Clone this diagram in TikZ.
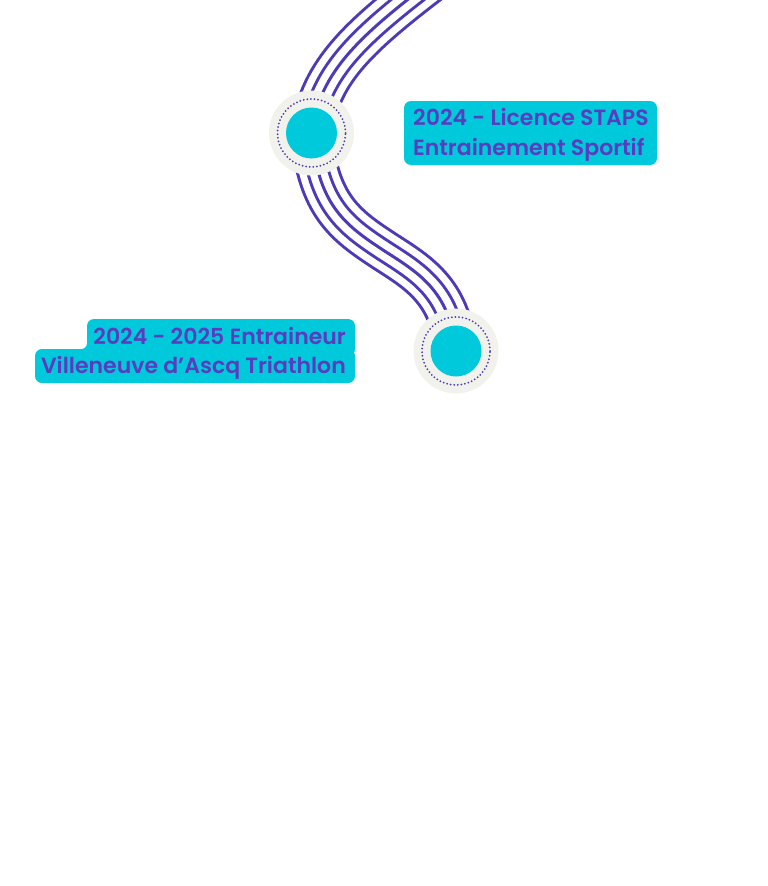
\documentclass[tikz,border=0pt]{standalone}
\usepackage{fontspec}
\setmainfont{Poppins}[BoldFont={Poppins SemiBold}]
\definecolor{linecol}{HTML}{4C3BB8}
\definecolor{txtcol}{HTML}{5A3CC0}
\definecolor{cyanfill}{HTML}{00C9DB}
\definecolor{halo}{HTML}{F2F2EC}
\tikzset{
  halonode/.style={circle, fill=halo, minimum size=85pt, inner sep=0pt},
  corenode/.style={circle, fill=cyanfill, minimum size=51pt, inner sep=0pt},
  dotring/.style={draw=linecol, line width=2pt, line cap=round, dash pattern=on 0pt off 3.6pt},
  labeltext/.style={inner sep=0pt, text=txtcol, font=\bfseries\fontsize{22}{30}\selectfont},
  labelbox/.style={fill=cyanfill, rounded corners=7pt}
}
\begin{document}
\begin{tikzpicture}[x=1pt,y=-1pt]
\useasboundingbox (0,0) rectangle (768,886);
\clip (0,0) rectangle (768,886);
\coordinate (top) at (446,-30);
\coordinate (p1) at (311.5,133);
\coordinate (p2) at (456,351);
% connectors: five parallel strands made of stacked strokes
\foreach \w/\c in {43.5/linecol,37.5/white,23.5/linecol,17.5/white,3/linecol}{
  \draw[line width=\w pt, draw=\c] (p1) .. controls (320,70) and (360,35) .. (top);
  \draw[line width=\w pt, draw=\c] (p1) .. controls (318,205) and (345,225) .. (383,250)
     .. controls (417,272) and (450,290) .. (p2);
}
% milestones
\node[halonode] (h1) at (p1) {};
\node[corenode] (k1) at (p1) {};
\draw[dotring] (p1) circle (34pt);
\node[halonode] (h2) at (p2) {};
\node[corenode] (k2) at (p2) {};
\draw[dotring] (p2) circle (34pt);
% label 1
\fill[labelbox] (404,101) rectangle (657,165);
\node[labeltext, anchor=base west] (t1a) at (413,125.5) {2024 - Licence STAPS};
\node[labeltext, anchor=base west] (t1b) at (413,155.5) {Entrainement Sportif};
% label 2
\fill[labelbox] (87,319) rectangle (355,356);
\fill[labelbox] (35,349) rectangle (355,383);
\fill[cyanfill] (81,343) rectangle (88,350);
\fill[white] (81,343) circle (6pt);
\node[labeltext, anchor=base east] (t2a) at (346,344) {2024 - 2025 Entraineur};
\node[labeltext, anchor=base east] (t2b) at (346,373.5) {Villeneuve d’Ascq Triathlon};
\end{tikzpicture}
\end{document}
